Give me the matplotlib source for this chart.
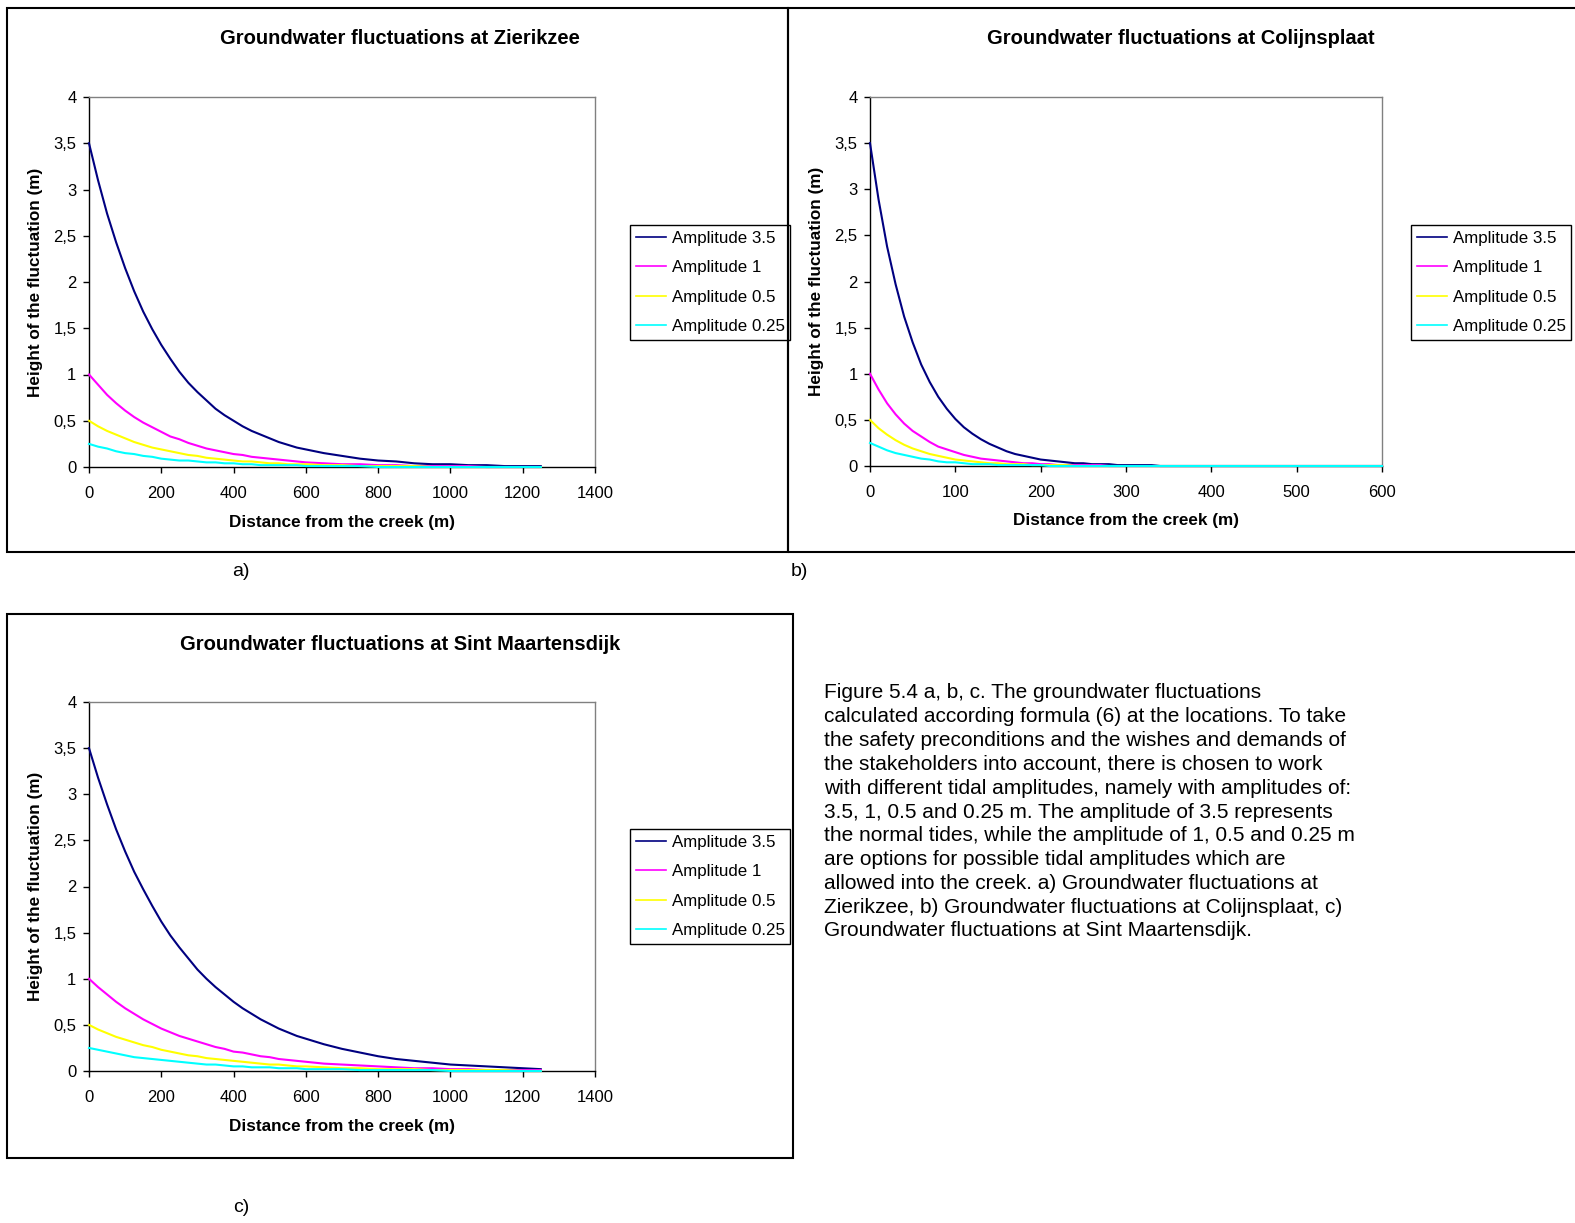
import matplotlib
matplotlib.use("Agg")
import matplotlib.pyplot as plt
from matplotlib.lines import Line2D
from matplotlib.patches import Rectangle

plt.rcParams['font.family'] = ['Liberation Sans', 'DejaVu Sans']

W, H = 1575, 1223

# ---- data (m) ----
dist_z = [0, 25, 50, 75, 100, 125, 150, 175, 200, 225, 250, 275, 300, 325, 350, 375, 400,
          425, 450, 475, 500, 525, 550, 575, 600,
          650, 700, 750, 800, 850, 900, 950, 1000, 1050, 1100, 1150, 1200, 1250]
zier_35 = [3.50, 3.10, 2.74, 2.43, 2.15, 1.90, 1.68, 1.49, 1.32, 1.17, 1.03, 0.91, 0.81,
           0.72, 0.63, 0.56, 0.50, 0.44, 0.39, 0.35, 0.31, 0.27, 0.24, 0.21, 0.19,
           0.15, 0.12, 0.09, 0.07, 0.06, 0.04, 0.03, 0.03, 0.02, 0.02, 0.01, 0.01, 0.01]
zier_1 = [1.00, 0.89, 0.78, 0.69, 0.61, 0.54, 0.48, 0.43, 0.38, 0.33, 0.30, 0.26, 0.23,
          0.20, 0.18, 0.16, 0.14, 0.13, 0.11, 0.10, 0.09, 0.08, 0.07, 0.06, 0.05,
          0.04, 0.03, 0.03, 0.02, 0.02, 0.01, 0.01, 0.01, 0.01, 0.00, 0.00, 0.00, 0.00]
zier_05 = [0.50, 0.44, 0.39, 0.35, 0.31, 0.27, 0.24, 0.21, 0.19, 0.17, 0.15, 0.13, 0.12,
           0.10, 0.09, 0.08, 0.07, 0.06, 0.06, 0.05, 0.04, 0.04, 0.03, 0.03, 0.03,
           0.02, 0.02, 0.01, 0.01, 0.01, 0.01, 0.00, 0.00, 0.00, 0.00, 0.00, 0.00, 0.00]
zier_025 = [0.25, 0.22, 0.20, 0.17, 0.15, 0.14, 0.12, 0.11, 0.09, 0.08, 0.07, 0.07, 0.06,
            0.05, 0.05, 0.04, 0.04, 0.03, 0.03, 0.02, 0.02, 0.02, 0.02, 0.02, 0.01,
            0.01, 0.01, 0.01, 0.00, 0.00, 0.00, 0.00, 0.00, 0.00, 0.00, 0.00, 0.00, 0.00]

dist_c = [0, 10, 20, 30, 40, 50, 60, 70, 80, 90, 100, 110, 120, 130, 140, 150, 160, 170,
          180, 190, 200, 210, 220, 230, 240, 250, 260, 270, 280, 290, 300, 310, 320, 330,
          340, 600]
coli_35 = [3.50, 2.89, 2.38, 1.97, 1.62, 1.34, 1.10, 0.91, 0.75, 0.62, 0.51, 0.42, 0.35,
           0.29, 0.24, 0.20, 0.16, 0.13, 0.11, 0.09, 0.07, 0.06, 0.05, 0.04, 0.03, 0.03,
           0.02, 0.02, 0.02, 0.01, 0.01, 0.01, 0.01, 0.01, 0.00, 0.00]
coli_1 = [1.00, 0.83, 0.68, 0.56, 0.46, 0.38, 0.32, 0.26, 0.21, 0.18, 0.15, 0.12, 0.10,
          0.08, 0.07, 0.06, 0.05, 0.04, 0.03, 0.03, 0.02, 0.02, 0.01, 0.01, 0.01, 0.01,
          0.01, 0.01, 0.00, 0.00, 0.00, 0.00, 0.00, 0.00, 0.00, 0.00]
coli_05 = [0.50, 0.41, 0.34, 0.28, 0.23, 0.19, 0.16, 0.13, 0.11, 0.09, 0.07, 0.06, 0.05,
           0.04, 0.03, 0.03, 0.02, 0.02, 0.02, 0.01, 0.01, 0.01, 0.01, 0.01, 0.00, 0.00,
           0.00, 0.00, 0.00, 0.00, 0.00, 0.00, 0.00, 0.00, 0.00, 0.00]
coli_025 = [0.25, 0.21, 0.17, 0.14, 0.12, 0.10, 0.08, 0.07, 0.05, 0.04, 0.04, 0.03, 0.02,
            0.02, 0.02, 0.01, 0.01, 0.01, 0.01, 0.01, 0.01, 0.00, 0.00, 0.00, 0.00, 0.00,
            0.00, 0.00, 0.00, 0.00, 0.00, 0.00, 0.00, 0.00, 0.00, 0.00]

dist_s = dist_z
sint_35 = [3.50, 3.18, 2.89, 2.62, 2.38, 2.16, 1.97, 1.79, 1.62, 1.47, 1.34, 1.22, 1.10,
           1.00, 0.91, 0.83, 0.75, 0.68, 0.62, 0.56, 0.51, 0.46, 0.42, 0.38, 0.35,
           0.29, 0.24, 0.20, 0.16, 0.13, 0.11, 0.09, 0.07, 0.06, 0.05, 0.04, 0.03, 0.02]
sint_1 = [1.00, 0.91, 0.83, 0.75, 0.68, 0.62, 0.56, 0.51, 0.46, 0.42, 0.38, 0.35, 0.32,
          0.29, 0.26, 0.24, 0.21, 0.20, 0.18, 0.16, 0.15, 0.13, 0.12, 0.11, 0.10,
          0.08, 0.07, 0.06, 0.05, 0.04, 0.03, 0.03, 0.02, 0.02, 0.01, 0.01, 0.01, 0.01]
sint_05 = [0.50, 0.45, 0.41, 0.37, 0.34, 0.31, 0.28, 0.26, 0.23, 0.21, 0.19, 0.17, 0.16,
           0.14, 0.13, 0.12, 0.11, 0.10, 0.09, 0.08, 0.07, 0.07, 0.06, 0.05, 0.05,
           0.04, 0.03, 0.03, 0.02, 0.02, 0.02, 0.01, 0.01, 0.01, 0.01, 0.01, 0.00, 0.00]
sint_025 = [0.25, 0.23, 0.21, 0.19, 0.17, 0.15, 0.14, 0.13, 0.12, 0.11, 0.10, 0.09, 0.08,
            0.07, 0.07, 0.06, 0.05, 0.05, 0.04, 0.04, 0.04, 0.03, 0.03, 0.03, 0.02,
            0.02, 0.02, 0.01, 0.01, 0.01, 0.01, 0.01, 0.00, 0.00, 0.00, 0.00, 0.00, 0.00]

labels = ['Amplitude 3.5', 'Amplitude 1', 'Amplitude 0.5', 'Amplitude 0.25']
colors = ['#000080', '#FF00FF', '#FFFF00', '#00FFFF']
y_ticks = [0, 0.5, 1, 1.5, 2, 2.5, 3, 3.5, 4]
y_tick_labels = ['0', '0,5', '1', '1,5', '2', '2,5', '3', '3,5', '4']

caption_lines = [
    "Figure 5.4 a, b, c. The groundwater fluctuations",
    "calculated according formula (6) at the locations. To take",
    "the safety preconditions and the wishes and demands of",
    "the stakeholders into account, there is chosen to work",
    "with different tidal amplitudes, namely with amplitudes of:",
    "3.5, 1, 0.5 and 0.25 m. The amplitude of 3.5 represents",
    "the normal tides, while the amplitude of 1, 0.5 and 0.25 m",
    "are options for possible tidal amplitudes which are",
    "allowed into the creek. a) Groundwater fluctuations at",
    "Zierikzee, b) Groundwater fluctuations at Colijnsplaat, c)",
    "Groundwater fluctuations at Sint Maartensdijk.",
]


def fx(x):
    return x / W


def fy(y):
    return 1 - y / H


fig = plt.figure(figsize=(W / 100, H / 100), dpi=100)
fig.patch.set_facecolor('white')


def chart(box, plot, title, title_xy, x, series, xmax, xstep, leg_xy):
    # chart area border
    x0, y0, x1, y1 = box
    fig.patches.append(Rectangle((fx(x0), fy(y1)), fx(x1 - x0), (y1 - y0) / H,
                                 transform=fig.transFigure, fill=False,
                                 edgecolor='black', lw=1.5, zorder=0))
    l, t, r, b = plot
    ax = fig.add_axes([fx(l), fy(b), fx(r - l), (b - t) / H])
    for ys, c, lab in zip(series, colors, labels):
        ax.plot(x, ys, color=c, lw=1.5, label=lab, zorder=3, clip_on=False)
    ax.set_xlim(0, xmax)
    ax.set_ylim(0, 4)
    ax.set_xticks(range(0, xmax + 1, xstep))
    ax.set_yticks(y_ticks)
    ax.set_yticklabels(y_tick_labels)
    ax.tick_params(direction='out', length=4, width=1, labelsize=12, pad=5)
    ax.tick_params(axis='x', pad=10)
    for s in ['left', 'bottom']:
        ax.spines[s].set_color('black')
        ax.spines[s].set_linewidth(1)
    for s in ['top', 'right']:
        ax.spines[s].set_color('#808080')
        ax.spines[s].set_linewidth(1)

    fig.text(fx(title_xy[0]), fy(title_xy[1]), title, ha='center', va='center',
             fontsize=14.5, fontweight='bold')
    fig.text(fx((l + r) / 2), fy(b + 55), 'Distance from the creek (m)', ha='center',
             va='center', fontsize=12.3, fontweight='bold')
    fig.text(fx(l - 53), fy((t + b) / 2), 'Height of the fluctuation (m)',
             ha='center', va='center', rotation=90, fontsize=12.3, fontweight='bold')

    handles = [Line2D([], [], color=c, lw=1.2) for c in colors]
    ax.legend(handles, labels, loc='upper left',
              bbox_to_anchor=(fx(leg_xy[0]), fy(leg_xy[1])),
              bbox_transform=fig.transFigure, borderaxespad=0, fontsize=12.2,
              frameon=True, fancybox=False, edgecolor='black', framealpha=1,
              handlelength=1.8, handletextpad=0.3, labelspacing=0.85,
              borderpad=0.35)
    ax.get_legend().get_frame().set_linewidth(1)
    return ax


chart((7, 8, 788, 552), (89, 97, 595, 467), 'Groundwater fluctuations at Zierikzee',
      (400, 39), dist_z, [zier_35, zier_1, zier_05, zier_025], 1400, 200, (630, 225))
chart((788, 8, 1600, 552), (870, 97, 1382, 466), 'Groundwater fluctuations at Colijnsplaat',
      (1181, 39), dist_c, [coli_35, coli_1, coli_05, coli_025], 600, 100, (1411, 225))
chart((7, 614, 793, 1158), (89, 702, 595, 1071), 'Groundwater fluctuations at Sint Maartensdijk',
      (400, 644), dist_s, [sint_35, sint_1, sint_05, sint_025], 1400, 200, (630, 829))

fig.text(fx(241), fy(572), 'a)', ha='center', va='center', fontsize=14)
fig.text(fx(799), fy(572), 'b)', ha='center', va='center', fontsize=14)
fig.text(fx(241), fy(1208), 'c)', ha='center', va='center', fontsize=14)

for i, line in enumerate(caption_lines):
    fig.text(fx(824), fy(693 + 23.8 * i), line, ha='left', va='center', fontsize=15)

fig.savefig('out.png', dpi=100, facecolor='white')
